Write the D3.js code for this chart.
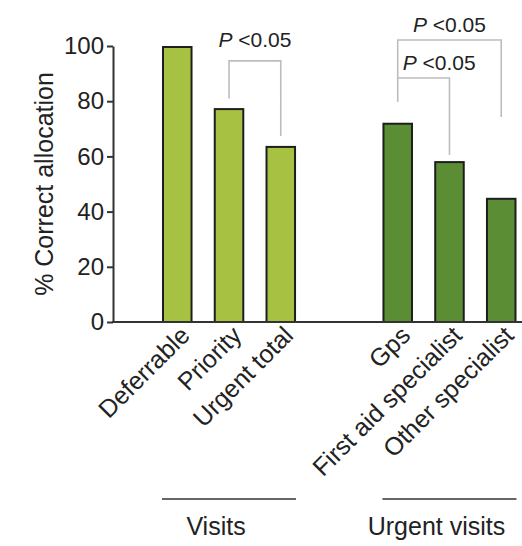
<!DOCTYPE html>
<html>
<head>
<meta charset="utf-8">
<script src="https://cdn.jsdelivr.net/npm/d3@7"></script>
<style>
  html, body { margin: 0; padding: 0; background: #fff; }
  svg { display: block; font-family: "Liberation Sans", Arial, Helvetica, sans-serif; }
</style>
</head>
<body>
<svg id="chart" width="522" height="546"></svg>
<script>
// Groups of visits and their categories
const groups = ["Visits", "Urgent visits"];
const visitCategories = ["Deferrable", "Priority", "Urgent total"];
const visitValues = [100, 77.5, 63.8];
const urgentCategories = ["Gps", "First aid specialist", "Other specialist"];
const urgentValues = [72.2, 58.3, 45.0];
const yTicks = [0, 20, 40, 60, 80, 100];
const yLabel = "% Correct allocation";

// Significance brackets: endpoints, bracket level, leg ends and label height (in %)
const bracketFrom = ["Priority", "Gps", "Gps"];
const bracketTo = ["Urgent total", "First aid specialist", "Other specialist"];
const bracketLevel = [94.6, 88.4, 102.2];
const bracketLegFrom = [81.0, 79.7, 88.4];
const bracketLegTo = [67.4, 60.5, 74.3];
const bracketLabelY = [99.6, 91.4, 105.2];
const bracketLabelAlign = ["middle", "start", "middle"];
const pLabel = "<0.05";

const fills = { "Visits": "#a7c142", "Urgent visits": "#5b8d35" };

const bars = [
  ...visitCategories.map((c, i) => ({ group: "Visits", cat: c, idx: i, value: visitValues[i] })),
  ...urgentCategories.map((c, i) => ({ group: "Urgent visits", cat: c, idx: i, value: urgentValues[i] }))
];

const svg = d3.select("#chart");
const axisX0 = 113, axisX1 = 522;

const y = d3.scaleLinear().domain([0, 100]).range([322, 46]);
const outer = d3.scaleBand().domain(groups).range([162, 516.5]).paddingInner(0.392);
const inner = d3.scaleBand().domain([0, 1, 2]).range([0, outer.bandwidth()]).paddingInner(0.41);

const barX = d => outer(d.group) + inner(d.idx);
const catCenter = {};
bars.forEach(d => { catCenter[d.cat] = barX(d) + inner.bandwidth() / 2; });

// Bars
svg.append("g").selectAll("rect").data(bars).join("rect")
  .attr("x", d => barX(d) + 1)
  .attr("width", inner.bandwidth() - 2)
  .attr("y", d => y(d.value) + 1)
  .attr("height", d => y(0) - y(d.value) - 1)
  .attr("fill", d => fills[d.group])
  .attr("stroke", "#1e1e1e")
  .attr("stroke-width", 2);

// Y axis
const yAxis = svg.append("g")
  .attr("transform", `translate(${axisX0},0)`)
  .call(d3.axisLeft(y).tickValues(yTicks).tickSize(6).tickSizeOuter(0).tickPadding(3));
yAxis.select(".domain").attr("stroke", "#333").attr("stroke-width", 2);
yAxis.selectAll(".tick line").attr("stroke", "#333").attr("stroke-width", 2);
yAxis.selectAll(".tick text")
  .attr("font-size", 24).attr("fill", "#222")
  .attr("font-family", "'Liberation Sans', Arial, sans-serif");

// X baseline
svg.append("line")
  .attr("x1", axisX0 - 1).attr("x2", axisX1)
  .attr("y1", y(0)).attr("y2", y(0))
  .attr("stroke", "#333").attr("stroke-width", 2);

// Y axis title
svg.append("text")
  .attr("transform", `translate(53,${(y(0) + y(100)) / 2}) rotate(-90)`)
  .attr("text-anchor", "middle")
  .attr("font-size", 25).attr("fill", "#222")
  .text(yLabel);

// Rotated category labels
svg.append("g").selectAll("text").data(bars).join("text")
  .attr("transform", d => `translate(${catCenter[d.cat] + 14},${y(0) + 15}) rotate(-45)`)
  .attr("text-anchor", "end")
  .attr("font-size", 25).attr("fill", "#222")
  .text(d => d.cat);

// Group underlines and labels
const groupG = svg.append("g").selectAll("g").data(groups).join("g");
groupG.append("line")
  .attr("x1", g => outer(g)).attr("x2", g => outer(g) + outer.bandwidth())
  .attr("y1", 499).attr("y2", 499)
  .attr("stroke", "#333").attr("stroke-width", 1.5);
groupG.append("text")
  .attr("x", g => outer(g) + outer.bandwidth() / 2 - 13)
  .attr("y", 535)
  .attr("text-anchor", "middle")
  .attr("font-size", 25).attr("fill", "#222")
  .text(g => g);

// Significance brackets
const brackets = bracketFrom.map((f, i) => ({
  x1: catCenter[f], x2: catCenter[bracketTo[i]],
  level: bracketLevel[i], leg1: bracketLegFrom[i], leg2: bracketLegTo[i],
  labelY: bracketLabelY[i], align: bracketLabelAlign[i]
}));
const bg = svg.append("g").selectAll("g").data(brackets).join("g");
bg.append("path")
  .attr("d", b => `M${b.x1},${y(b.leg1)}V${y(b.level)}H${b.x2}V${y(b.leg2)}`)
  .attr("fill", "none").attr("stroke", "#bdbdbd").attr("stroke-width", 1.6);
const bt = bg.append("text")
  .attr("x", b => b.align === "middle" ? (b.x1 + b.x2) / 2 : b.x1 + 5)
  .attr("y", b => y(b.labelY))
  .attr("text-anchor", b => b.align)
  .attr("font-size", 21).attr("fill", "#222");
bt.append("tspan").attr("font-style", "italic").text("P");
bt.append("tspan").text(" " + pLabel);
</script>
</body>
</html>
